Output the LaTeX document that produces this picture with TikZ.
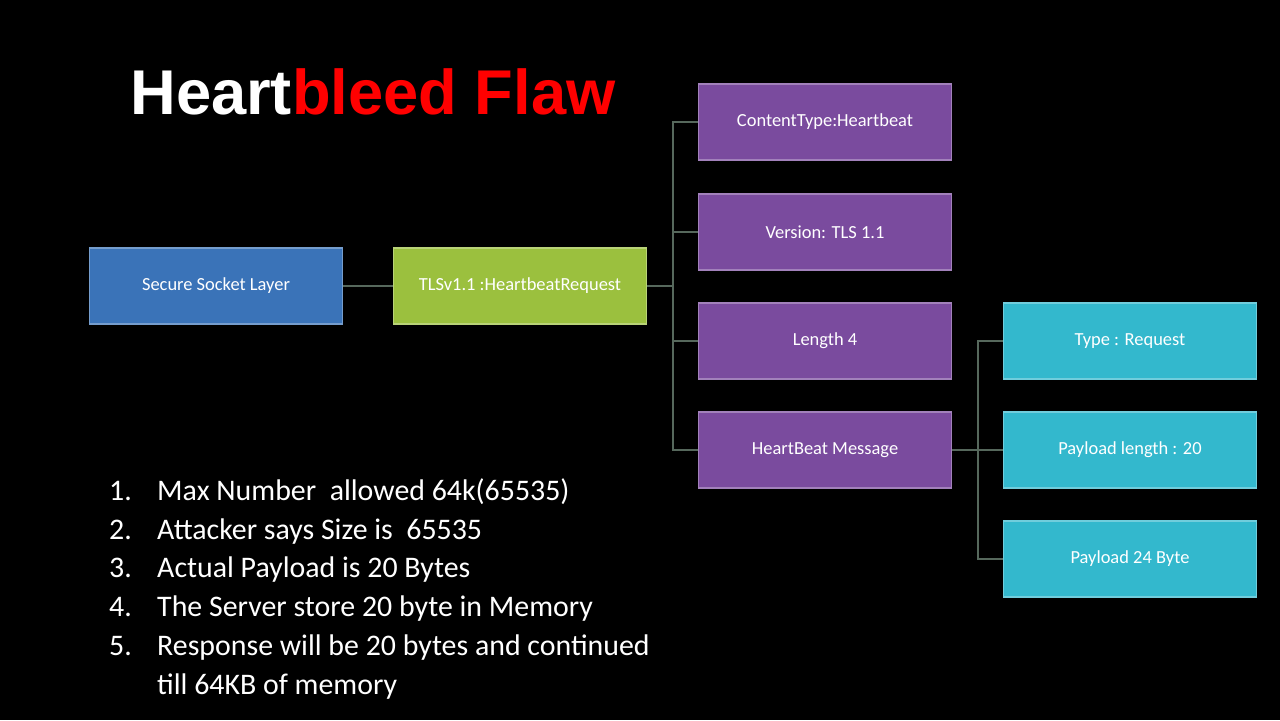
\documentclass[tikz,border=0pt]{standalone}
\usepackage{fontspec}
\setmainfont{Carlito}
\newfontfamily\titlefont{Liberation Sans}
\definecolor{sslblue}{HTML}{3A73B8}
\definecolor{tlsgreen}{HTML}{9BC03E}
\definecolor{hbpurple}{HTML}{7A4B9E}
\definecolor{msgcyan}{HTML}{33B8CD}
\definecolor{linkgray}{HTML}{56685C}
\begin{document}
\begin{tikzpicture}[x=0.02cm, y=-0.02cm,
    box/.style={rectangle, draw=#1!70!white, fill=#1, line width=1pt,
                minimum width=5.06cm, minimum height=1.52cm, inner sep=2pt,
                text=white, font=\fontsize{10.5}{12}\selectfont},
    link/.style={draw=linkgray, line width=1.2pt},
    item/.style={anchor=base west, text=white, font=\fontsize{17}{20}\selectfont},
  ]
  \fill[black] (0,0) rectangle (1280,720);
  \useasboundingbox (0,0) rectangle (1280,720);

  % Title
  \node[anchor=base west, inner sep=0pt] (title) at (130,114)
    {\titlefont\bfseries\fontsize{36}{40}\selectfont\textcolor{white}{Heart}\textcolor{red}{bleed Flaw}};

  % Main chain
  \node[box=sslblue] (ssl) at (216,286) {Secure Socket Layer};
  \node[box=tlsgreen] (tls) at (520,286) {TLSv1.1 :HeartbeatRequest};

  % Record fields
  \node[box=hbpurple] (ctype) at (825,122) {ContentType:Heartbeat};
  \node[box=hbpurple] (ver) at (825,232) {Version: TLS 1.1};
  \node[box=hbpurple] (len) at (825,341) {Length 4};
  \node[box=hbpurple] (hbmsg) at (825,450) {HeartBeat Message};

  % Message fields
  \node[box=msgcyan] (type) at (1130,341) {Type : Request};
  \node[box=msgcyan] (plen) at (1130,450) {Payload length : 20};
  \node[box=msgcyan] (pay) at (1130,559) {Payload 24 Byte};

  % Connectors
  \coordinate (trunk) at (673,286);
  \coordinate (trunk2) at (978,450);
  \draw[link] (ssl) -- (tls);
  \draw[link] (tls) -- (trunk);
  \foreach \n in {ctype,ver,len,hbmsg}
    \draw[link] (trunk) |- (\n.west);
  \draw[link] (hbmsg) -- (trunk2);
  \foreach \n in {type,plen,pay}
    \draw[link] (trunk2) |- (\n.west);

  % Notes
  \node[item] (n1) at (103,500) {1.};
  \node[item] at (151,500) {Max Number\ \ allowed 64k(65535)};
  \node[item] (n2) at (103,539) {2.};
  \node[item] at (151,539) {Attacker says Size is\ \ 65535};
  \node[item] (n3) at (103,577) {3.};
  \node[item] at (151,577) {Actual Payload is 20 Bytes};
  \node[item] (n4) at (103,616) {4.};
  \node[item] at (151,616) {The Server store 20 byte in Memory};
  \node[item] (n5) at (103,655) {5.};
  \node[item] at (151,655) {Response will be 20 bytes and continued};
  \node[item] at (151,694) {till 64KB of memory};
\end{tikzpicture}
\end{document}
